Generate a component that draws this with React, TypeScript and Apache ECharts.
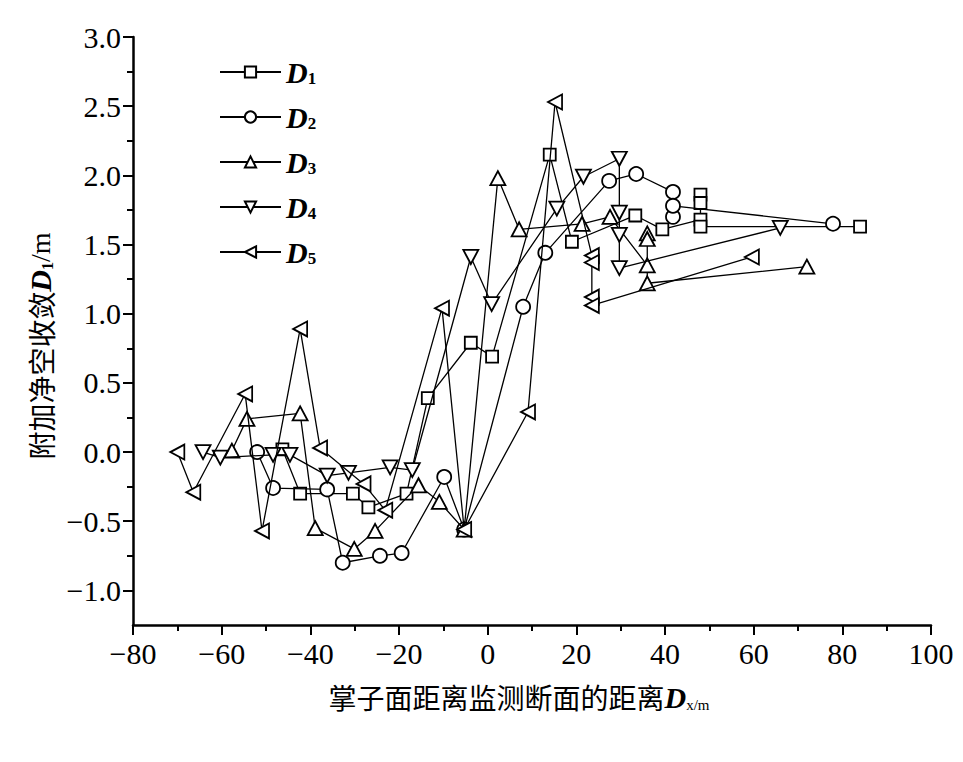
import React, { useEffect, useRef } from 'react';
import * as echarts from 'echarts';

const SERIF = '"Liberation Serif", "Times New Roman", serif';
const CJK = '"Noto Sans CJK SC", "Noto Sans CJK JP", sans-serif';

const seriesNames = ['D1', 'D2', 'D3', 'D4', 'D5'];

const xD1 = [-46.3, -42.3, -30.4, -26.9, -18.3, -13.5, -3.8, 1.0, 14.0, 19.0, 33.3, 39.4, 48, 48, 48, 48, 84];
const yD1 = [0.02, -0.30, -0.30, -0.40, -0.30, 0.39, 0.79, 0.69, 2.15, 1.52, 1.71, 1.61, 1.68, 1.86, 1.80, 1.63, 1.63];

const xD2 = [-52, -48.4, -36.2, -32.7, -24.3, -19.4, -9.8, -5.3, 8.0, 13.0, 27.4, 33.5, 41.8, 41.8, 41.8, 77.9];
const yD2 = [0.0, -0.26, -0.27, -0.80, -0.75, -0.73, -0.18, -0.56, 1.05, 1.44, 1.96, 2.01, 1.88, 1.70, 1.78, 1.65];

const xD3 = [-57.7, -54.3, -42.3, -38.9, -30.1, -25.4, -15.6, -10.9, -5.3, 2.3, 7.1, 21.3, 27.6, 36, 36, 36, 36, 72];
const yD3 = [0.01, 0.24, 0.28, -0.55, -0.70, -0.57, -0.24, -0.36, -0.56, 1.98, 1.61, 1.65, 1.70, 1.35, 1.58, 1.54, 1.22, 1.34];

const xD4 = [-64.2, -60.3, -48.4, -44.6, -36.2, -31.4, -22, -17, -3.8, 0.9, 15.6, 21.6, 29.7, 29.7, 29.7, 29.7, 66];
const yD4 = [0.0, -0.04, -0.02, -0.02, -0.17, -0.15, -0.11, -0.13, 1.41, 1.07, 1.76, 1.99, 2.12, 1.73, 1.57, 1.33, 1.62];

const xD5 = [-70, -66.4, -54.7, -50.9, -42.3, -37.8, -28, -23.1, -10.3, -5.3, 9.1, 15.2, 23.5, 23.5, 23.5, 23.5, 59.6];
const yD5 = [0.0, -0.29, 0.42, -0.57, 0.89, 0.03, -0.23, -0.42, 1.04, -0.56, 0.29, 2.53, 1.42, 1.37, 1.12, 1.06, 1.41];

const yMajorTicks = [-1.0, -0.5, 0.0, 0.5, 1.0, 1.5, 2.0, 2.5, 3.0];
const yMinorTicks = [-0.75, -0.25, 0.25, 0.75, 1.25, 1.75, 2.25, 2.75];

const xs = [xD1, xD2, xD3, xD4, xD5];
const ys = [yD1, yD2, yD3, yD4, yD5];

const symbols = [
  'rect',
  'circle',
  'path://M5,0L10,9L0,9Z',
  'path://M0,0L10,0L5,9Z',
  'path://M9,0L9,10L0,5Z',
];
const symbolSizes: any[] = [12, 14, [15, 14], [15, 14], [14, 15]];

const minusFmt = (v: number, digits: number) => {
  const s = digits > 0 ? v.toFixed(digits) : String(v);
  return s.replace('-', '\u2212');
};

export default function App() {
  const ref = useRef<HTMLDivElement>(null);
  useEffect(() => {
    if (!ref.current) return;
    const chart = echarts.init(ref.current, null, { renderer: 'svg' });
    const series = seriesNames.map((name, i) => ({
      name,
      type: 'line',
      yAxisIndex: 0,
      data: xs[i].map((x, k) => [x, ys[i][k]]),
      symbol: symbols[i],
      symbolSize: symbolSizes[i],
      showSymbol: true,
      lineStyle: { color: '#000', width: 1.3 },
      itemStyle: { color: '#fff', borderColor: '#000', borderWidth: 1.8 },
      emphasis: { disabled: true },
      z: 2 + i,
    }));
    chart.setOption({
      animation: false,
      backgroundColor: '#fff',
      grid: { left: 133, right: 32, top: 37, bottom: 137, containLabel: false },
      legend: {
        orient: 'vertical',
        left: 219,
        top: 57,
        padding: 0,
        itemWidth: 61,
        itemHeight: 14,
        itemGap: 15,
        data: seriesNames,
        formatter: (n: string) => `{d|D}{s|${n.slice(1)}}`,
        textStyle: {
          color: '#000',
          rich: {
            d: { fontFamily: SERIF, fontStyle: 'italic', fontWeight: 'bold', fontSize: 30, lineHeight: 29, color: '#000' },
            s: { fontFamily: SERIF, fontWeight: 'bold', fontSize: 17, lineHeight: 29, verticalAlign: 'bottom', padding: [11, 0, 0, 0], color: '#000' },
          },
        },
      },
      xAxis: {
        type: 'value',
        min: -80,
        max: 100,
        interval: 20,
        name: '掌子面距离监测断面的距离{d|D}{s|x/m}',
        nameLocation: 'middle',
        nameGap: 57,
        nameTextStyle: {
          fontFamily: CJK,
          fontSize: 28,
          color: '#000',
          padding: [0, 26, 0, 0],
          rich: {
            d: { fontFamily: SERIF, fontStyle: 'italic', fontWeight: 'bold', fontSize: 30, color: '#000' },
            s: { fontFamily: SERIF, fontSize: 15, verticalAlign: 'bottom', padding: [14, 0, 0, 0], color: '#000' },
          },
        },
        axisLine: { onZero: false, lineStyle: { color: '#000', width: 2.5 } },
        axisTick: { length: 10, lineStyle: { color: '#000', width: 2 } },
        minorTick: { show: true, splitNumber: 2, length: 6, lineStyle: { color: '#000', width: 2 } },
        splitLine: { show: false },
        axisLabel: {
          margin: 13,
          fontFamily: SERIF,
          fontSize: 30,
          color: '#000',
          formatter: (v: number) => minusFmt(v, 0),
        },
      },
      yAxis: [
        {
          type: 'value',
          min: -1.25,
          max: 3.0,
          name: '附加净空收敛{d|D}{s|1}{u|/m}',
          nameLocation: 'middle',
          nameRotate: 90,
          nameGap: 67,
          nameTextStyle: {
            fontFamily: CJK,
            fontSize: 28,
            color: '#000',
            padding: [0, 30, 0, 0],
            rich: {
              d: { fontFamily: SERIF, fontStyle: 'italic', fontWeight: 'bold', fontSize: 30, color: '#000' },
              s: { fontFamily: SERIF, fontWeight: 'bold', fontSize: 16, verticalAlign: 'bottom', padding: [13, 0, 0, 0], color: '#000' },
              u: { fontFamily: SERIF, fontSize: 28, color: '#000' },
            },
          },
          axisLine: { show: true, onZero: false, lineStyle: { color: '#000', width: 2.5 } },
          axisTick: { show: true, length: 10, customValues: yMajorTicks, lineStyle: { color: '#000', width: 2 } },
          splitLine: { show: false },
          axisLabel: {
            margin: 12,
            fontFamily: SERIF,
            fontSize: 30,
            color: '#000',
            customValues: yMajorTicks,
            formatter: (v: number) => minusFmt(v, 1),
          },
        },
        {
          type: 'value',
          min: -1.25,
          max: 3.0,
          position: 'left',
          axisLine: { show: false, onZero: false },
          axisTick: { show: true, length: 6, customValues: yMinorTicks, lineStyle: { color: '#000', width: 2 } },
          axisLabel: { show: false, customValues: yMinorTicks },
          splitLine: { show: false },
        },
      ],
      series,
    });
    return () => chart.dispose();
  }, []);
  return (
    <div
      ref={ref}
      style={{ position: 'fixed', left: 0, top: 0, width: 963, height: 762, background: '#fff' }}
    />
  );
}
